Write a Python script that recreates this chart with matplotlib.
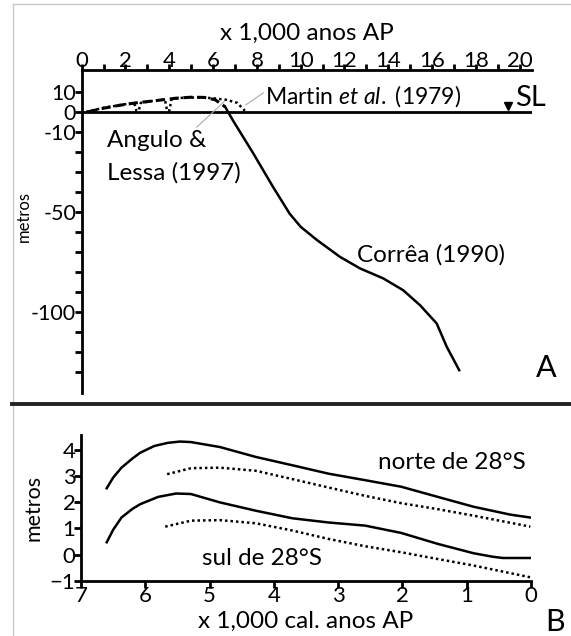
import numpy as np
import matplotlib.pyplot as plt
from matplotlib.lines import Line2D

plt.rcParams['font.family'] = ['Lato', 'DejaVu Sans']
plt.rcParams['mathtext.fontset'] = 'custom'
plt.rcParams['mathtext.rm'] = 'Lato'
plt.rcParams['mathtext.it'] = 'Lato:italic'

# painel A: curvas do nivel relativo do mar (x 1000 anos AP, metros)
angulo_t = [0.3, 1.0, 1.75, 2.5, 3.4, 4.3, 5.0, 5.6, 6.1, 6.55]
angulo_z = [0.0, 1.8, 3.3, 4.5, 5.6, 6.8, 7.3, 7.2, 6.0, 2.5]

martin_t = [0.2, 1.0, 2.0, 2.4, 2.5, 2.6, 2.7, 3.3, 3.8, 3.9, 4.0, 4.1,
            4.6, 5.3, 6.0, 6.6, 7.1, 7.45]
martin_z = [0.0, 2.0, 3.8, 4.3, 0.5, 0.5, 4.5, 5.5, 6.2, 0.5, 0.5, 6.3,
            7.0, 7.2, 6.8, 6.0, 4.5, 0.5]

correa_t = [6.55, 6.9, 7.83, 8.74, 9.5, 10.0, 10.73, 11.79, 12.71,
            13.77, 14.68, 15.45, 16.21, 16.67, 17.24]
correa_z = [2.5, -4.2, -20.7, -37.6, -51.0, -57.5, -64.0, -72.5, -78.3,
            -83.3, -89.2, -96.7, -105.8, -117.5, -129.2]

sl_t = 19.45

# painel B: x 1000 anos cal. AP, metros
norte_t = [6.60, 6.50, 6.37, 6.20, 6.08, 5.86, 5.65, 5.46, 5.29, 4.84,
           4.28, 3.71, 3.15, 2.58, 2.02, 1.45, 0.89, 0.32, 0.01]
norte_z = [2.54, 2.95, 3.33, 3.68, 3.90, 4.16, 4.28, 4.33, 4.31, 4.12,
           3.74, 3.42, 3.10, 2.85, 2.60, 2.21, 1.83, 1.53, 1.42]

norte_dot_t = [5.66, 5.29, 4.84, 4.28, 3.71, 3.15, 2.58, 2.02, 1.45, 0.89, 0.01]
norte_dot_z = [3.08, 3.31, 3.33, 3.21, 2.89, 2.57, 2.25, 1.97, 1.74, 1.49, 1.07]

sul_t = [6.60, 6.50, 6.37, 6.20, 6.08, 5.80, 5.52, 5.29, 4.84, 4.28, 3.71,
         3.15, 2.58, 2.02, 1.45, 0.89, 0.60, 0.44, 0.01]
sul_z = [0.47, 0.95, 1.42, 1.75, 1.93, 2.21, 2.34, 2.32, 2.00, 1.68, 1.39,
         1.23, 1.11, 0.83, 0.41, 0.05, -0.08, -0.13, -0.13]

sul_dot_t = [5.69, 5.29, 4.84, 4.28, 3.71, 3.15, 2.58, 2.02, 1.45, 0.89, 0.01]
sul_dot_z = [1.07, 1.30, 1.32, 1.20, 0.92, 0.60, 0.32, 0.09, -0.17, -0.42, -0.87]

W, H = 571, 636
fig = plt.figure(figsize=(W / 100, H / 100), dpi=100)

def box(x0, y0, x1, y1):
    return [x0 / W, 1 - y1 / H, (x1 - x0) / W, (y1 - y0) / H]

TICK = 16
TXT = 17.5

# ---------- painel A ----------
ax = fig.add_axes(box(81.7, 70, 531.7, 393))
ax.set_xlim(0, 20.55)
ax.set_ylim(-140.6, 20.9)
for s in ['right', 'bottom']:
    ax.spines[s].set_visible(False)
for s in ['left', 'top']:
    ax.spines[s].set_linewidth(2.0)
ax.xaxis.tick_top()
ax.set_xticks(range(0, 21))
ax.set_xticklabels([str(i) if i % 2 == 0 else '' for i in range(0, 21)])
ax.set_yticks(range(-130, 11, 10))
ax.set_yticklabels(['-100' if v == -100 else '-50' if v == -50 else
                    str(v) if v in (10, 0, -10) else '' for v in range(-130, 11, 10)])
ax.tick_params(axis='x', direction='out', length=4, width=2, labelsize=TICK, pad=-5)
ax.tick_params(axis='y', direction='out', length=5, width=2, labelsize=15.5, pad=-1)
ax.set_xlabel('x 1,000 anos AP', fontsize=TXT, labelpad=8)
ax.xaxis.set_label_position('top')
ax.set_ylabel('metros', fontsize=12)
ax.yaxis.set_label_coords(-0.110, 0.545)

ax.axhline(0, color='black', lw=2.0)
ax.plot(angulo_t, angulo_z, color='black', lw=2.2, ls=(0, (3, 1.5)))
ax.plot(martin_t, martin_z, color='black', lw=1.8, ls=(0, (1, 1.2)))
ax.plot(correa_t, correa_z, color='black', lw=1.8)
ax.plot([sl_t], [2.8], marker='v', color='black', ms=6)
ax.text(sl_t + 0.35, 7, 'SL', fontsize=21, va='center', ha='left')

ax.text(8.37, 7.8, 'Martin $\\mathit{et\\ al.}$ (1979)', fontsize=16.5, va='center')
ax.plot([8.3, 7.5], [9.5, 3.5], color='#aaaaaa', lw=0.8)
ax.text(1.16, -14.2, 'Angulo &', fontsize=TXT, va='center')
ax.text(1.16, -30.7, 'Lessa (1997)', fontsize=TXT, va='center')
ax.plot([5.25, 6.5], [-7.7, 5.0], color='#aaaaaa', lw=0.8)
ax.text(12.56, -71.7, 'Corrêa (1990)', fontsize=TXT, va='center')
ax.text(21.2, -128, 'A', fontsize=22, ha='center', va='center')

# ---------- painel B ----------
bx = fig.add_axes(box(81, 434.5, 531, 580.7))
bx.set_xlim(7, 0)
bx.set_ylim(-1, 4.6)
for s in ['right', 'top']:
    bx.spines[s].set_visible(False)
for s in ['left', 'bottom']:
    bx.spines[s].set_linewidth(2.0)
bx.set_xticks(range(7, -1, -1))
bx.set_yticks(range(-1, 5))
bx.tick_params(axis='both', direction='out', length=5, width=2, labelsize=TICK, pad=-1)
bx.set_xlabel('x 1,000 cal. anos AP', fontsize=TXT, labelpad=3)
bx.set_ylabel('metros', fontsize=15.5)
bx.yaxis.set_label_coords(-0.084, 0.497)

bx.plot(norte_t, norte_z, color='black', lw=1.8)
bx.plot(norte_dot_t, norte_dot_z, color='black', lw=1.8, ls=(0, (1, 1.2)))
bx.plot(sul_t, sul_z, color='black', lw=1.8)
bx.plot(sul_dot_t, sul_dot_z, color='black', lw=1.8, ls=(0, (1, 1.2)))
bx.text(2.38, 3.52, 'norte de 28°S', fontsize=TXT, va='center')
bx.text(5.12, -0.14, 'sul de 28°S', fontsize=TXT, va='center')
bx.text(-0.37, -2.6, 'B', fontsize=22, ha='center', va='center')

# moldura cinza e divisoria entre paineis
fig.add_artist(Line2D([12.5 / W, 12.5 / W], [0, 1 - 4 / H], color='#c8c8c8', lw=1))
fig.add_artist(Line2D([12.5 / W, 1], [1 - 4 / H, 1 - 4 / H], color='#c8c8c8', lw=1))
fig.add_artist(Line2D([12 / W, 1], [1 - 404 / H, 1 - 404 / H], color='#222222', lw=2.8))

fig.savefig('out.png', dpi=100)
